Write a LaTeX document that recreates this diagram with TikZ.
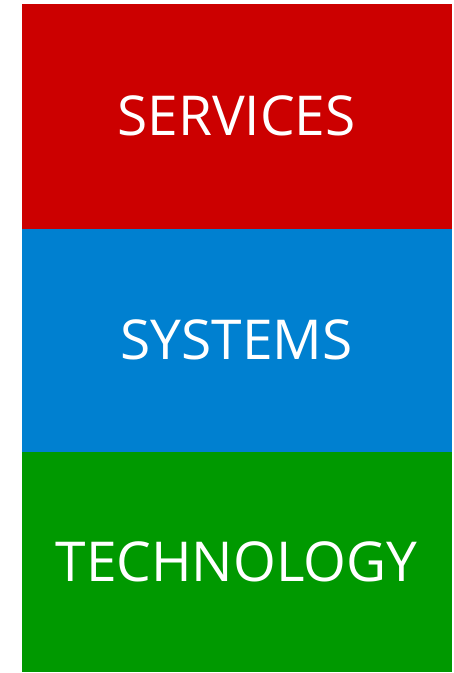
\documentclass[tikz,border=0pt]{standalone}
\usepackage{fontspec}
\setmainfont{Open Sans}
\usetikzlibrary{positioning}
\definecolor{srvred}{HTML}{CC0000}
\definecolor{sysblue}{HTML}{0080D0}
\definecolor{techgreen}{HTML}{009900}
\tikzset{
	layer/.style = {rectangle, inner sep=0pt, outer sep=0pt, text=white,
		minimum width=430pt, font=\fontsize{55}{60}\selectfont},% bloc de la pile
	layer_r/.style = {layer, fill=srvred, minimum height=224.5pt},% services
	layer_b/.style = {layer, fill=sysblue, minimum height=223.5pt},% systemes
	layer_g/.style = {layer, fill=techgreen, minimum height=220pt}% technologie
}
\begin{document}
\begin{tikzpicture}[x=1pt,y=-1pt,node distance=0pt]
\useasboundingbox (0,0) rectangle (454,673);
\node [layer_r, anchor=north west] (services) at (21.5,4) {SERVICES};
\node [layer_b, below=of services] (systems) {SYSTEMS};
\node [layer_g, below=of systems] (technology) {TECHNOLOGY};
\end{tikzpicture}
\end{document}
